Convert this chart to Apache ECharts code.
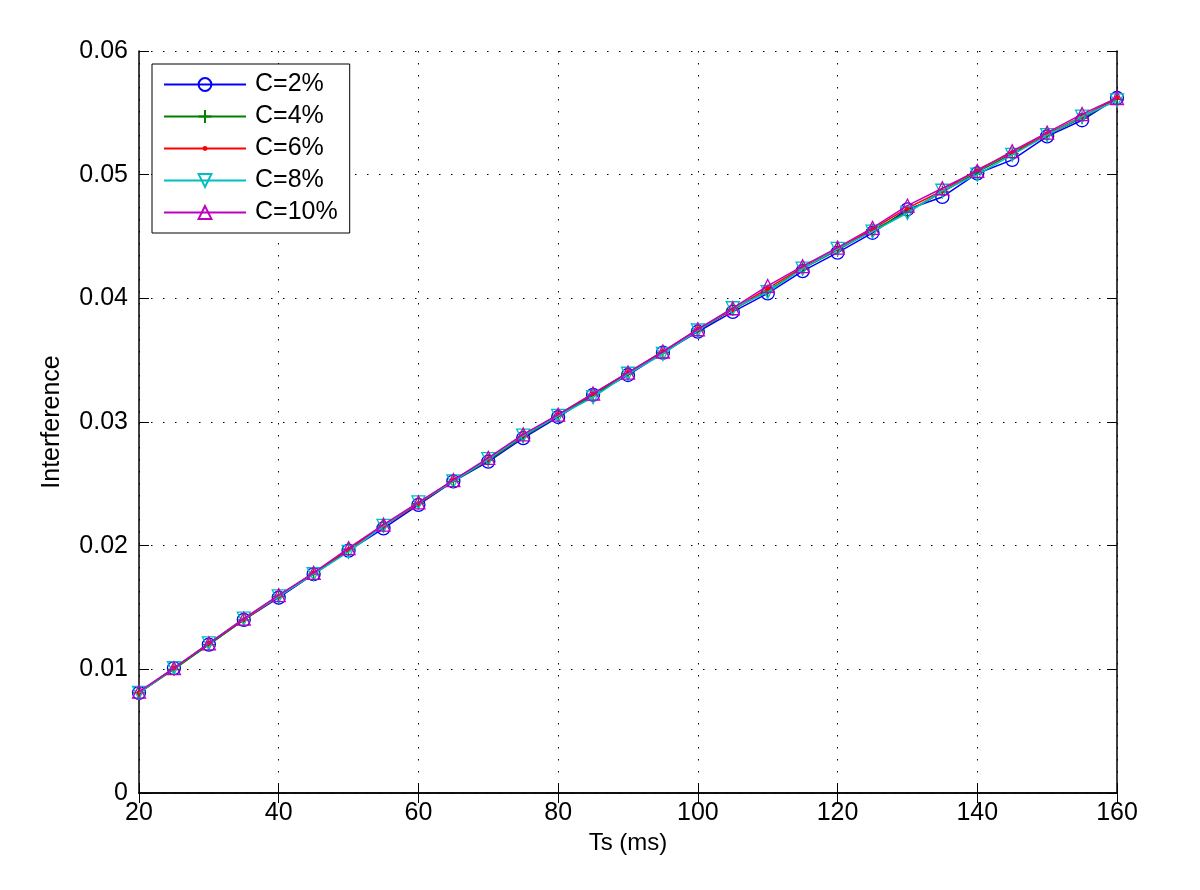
<!DOCTYPE html>
<html lang="en">
<head>
    <meta charset="utf-8">
    <title>Interference vs Ts</title>
    <script src="https://cdn.jsdelivr.net/npm/echarts@6/dist/echarts.min.js"></script>
    <style type="text/css">
        html, body { height: 100%; margin: 0; background: #fff; }
    </style>
</head>
<body>
    <div id="main" style="width:1200px;height:890px;"></div>
    <script type="text/javascript">
        // Ts (ms)
        var ts = [20, 25, 30, 35, 40, 45, 50, 55, 60, 65, 70, 75, 80, 85, 90, 95, 100, 105, 110, 115, 120, 125, 130, 135, 140, 145, 150, 155, 160];

        var c2 = [0.0081, 0.0101, 0.0120, 0.0140, 0.0158, 0.0177, 0.0196, 0.0214, 0.0233, 0.0252, 0.0268, 0.0287, 0.0304, 0.0322, 0.0338, 0.0356, 0.0373, 0.0389, 0.0404, 0.0422, 0.0437, 0.0453, 0.0472, 0.0482, 0.0501, 0.0512, 0.0531, 0.0544, 0.0562];
        var c4 = [0.0081, 0.0100, 0.0120, 0.0140, 0.0159, 0.0177, 0.0197, 0.0216, 0.0234, 0.0252, 0.0269, 0.0288, 0.0305, 0.0322, 0.0339, 0.0356, 0.0374, 0.0391, 0.0406, 0.0424, 0.0439, 0.0455, 0.0470, 0.0486, 0.0502, 0.0517, 0.0532, 0.0546, 0.0561];
        var c6 = [0.0081, 0.0101, 0.0121, 0.0140, 0.0159, 0.0178, 0.0197, 0.0216, 0.0234, 0.0253, 0.0270, 0.0289, 0.0306, 0.0323, 0.0340, 0.0357, 0.0375, 0.0391, 0.0408, 0.0425, 0.0440, 0.0456, 0.0473, 0.0487, 0.0504, 0.0518, 0.0533, 0.0547, 0.0562];
        var c8 = [0.0081, 0.0101, 0.0121, 0.0141, 0.0159, 0.0177, 0.0195, 0.0216, 0.0235, 0.0252, 0.0270, 0.0289, 0.0305, 0.0320, 0.0339, 0.0355, 0.0374, 0.0392, 0.0405, 0.0424, 0.0440, 0.0454, 0.0469, 0.0487, 0.0500, 0.0516, 0.0532, 0.0547, 0.0560];
        var c10 = [0.0082, 0.0101, 0.0121, 0.0141, 0.0160, 0.0178, 0.0198, 0.0217, 0.0235, 0.0253, 0.0271, 0.0290, 0.0306, 0.0323, 0.0340, 0.0357, 0.0375, 0.0392, 0.0410, 0.0426, 0.0441, 0.0457, 0.0475, 0.0489, 0.0503, 0.0519, 0.0534, 0.0549, 0.0562];

        var seriesNames = ['C=2%', 'C=4%', 'C=6%', 'C=8%', 'C=10%'];
        var seriesValues = [c2, c4, c6, c8, c10];
        var seriesColors = ['#0000ff', '#008000', '#ff0000', '#00bfbf', '#bf00bf'];

        var FONT = '"Liberation Sans", Arial, Helvetica, sans-serif';
        var plusPath = 'path://M5,0L5,10M0,5L10,5';
        // small dot inside a 13x13 box (the moves only widen the box)
        var dotPath = 'path://M0,0M13,13M4,6.5A2.5,2.5,0,1,0,9,6.5A2.5,2.5,0,1,0,4,6.5Z';

        function pairs(vals) {
            return ts.map(function (t, i) { return [t, vals[i]]; });
        }

        // marker style per series
        function markerOf(i) {
            var col = seriesColors[i];
            switch (i) {
                case 0: return { symbol: 'circle', symbolSize: 13, symbolRotate: 0, itemStyle: { color: 'transparent', borderColor: col, borderWidth: 1.3 } };
                case 1: return { symbol: plusPath, symbolSize: 13, symbolRotate: 0, itemStyle: { color: 'transparent', borderColor: col, borderWidth: 1.3 } };
                case 2: return { symbol: dotPath, symbolSize: 13, symbolRotate: 0, itemStyle: { color: col, borderColor: col, borderWidth: 0 } };
                case 3: return { symbol: 'triangle', symbolSize: 13, symbolRotate: 180, itemStyle: { color: 'transparent', borderColor: col, borderWidth: 1.3 } };
                default: return { symbol: 'triangle', symbolSize: 13, symbolRotate: 0, itemStyle: { color: 'transparent', borderColor: col, borderWidth: 1.3 } };
            }
        }

        var series = [];
        for (var i = 0; i < seriesNames.length; i++) {
            var m = markerOf(i);
            series.push({
                name: seriesNames[i],
                type: 'line',
                xAxisIndex: 0,
                yAxisIndex: 0,
                data: pairs(seriesValues[i]),
                symbol: m.symbol,
                symbolSize: m.symbolSize,
                symbolRotate: m.symbolRotate,
                showSymbol: true,
                lineStyle: { color: seriesColors[i], width: 1.5 },
                itemStyle: m.itemStyle,
                emphasis: { disabled: true },
                z: 2 + i
            });
        }

        var tickStyle = { show: true, inside: true, length: 10, lineStyle: { color: '#000', width: 1 } };
        var gridDots = { show: true, lineStyle: { color: '#000', width: 1, type: [1.5, 10.5] } };

        var myChart = echarts.init(document.getElementById('main'));
        var option = {
            animation: false,
            backgroundColor: '#fff',
            textStyle: { fontFamily: FONT },
            grid: { left: 139, right: 83, top: 51, bottom: 97 },
            legend: {
                orient: 'vertical',
                left: 152,
                top: 64,
                data: seriesNames,
                itemWidth: 82,
                itemHeight: 16,
                itemGap: 7,
                padding: [8, 12, 8, 11],
                borderColor: '#000',
                borderWidth: 1,
                backgroundColor: '#fff',
                textStyle: { fontFamily: FONT, fontSize: 25, color: '#000', padding: [0, 0, 0, 4] }
            },
            xAxis: [
                {
                    type: 'value', min: 20, max: 160, interval: 20,
                    position: 'bottom',
                    name: 'Ts (ms)', nameLocation: 'middle', nameGap: 33,
                    nameTextStyle: { fontFamily: FONT, fontSize: 24, color: '#000' },
                    axisLine: { show: true, lineStyle: { color: '#000', width: 1.5 } },
                    axisTick: tickStyle,
                    axisLabel: { fontFamily: FONT, fontSize: 25, color: '#000', margin: 8 },
                    splitLine: gridDots
                },
                {
                    type: 'value', min: 20, max: 160, interval: 20,
                    position: 'top',
                    axisLine: { show: true, lineStyle: { color: '#000', width: 1.5 } },
                    axisTick: tickStyle,
                    axisLabel: { show: false },
                    splitLine: { show: false }
                }
            ],
            yAxis: [
                {
                    type: 'value', min: 0, max: 0.06, interval: 0.01,
                    position: 'left',
                    name: 'Interference', nameLocation: 'middle', nameGap: 74,
                    nameTextStyle: { fontFamily: FONT, fontSize: 25, color: '#000' },
                    axisLine: { show: true, lineStyle: { color: '#000', width: 1.5 } },
                    axisTick: tickStyle,
                    axisLabel: { fontFamily: FONT, fontSize: 25, color: '#000', margin: 11 },
                    splitLine: gridDots
                },
                {
                    type: 'value', min: 0, max: 0.06, interval: 0.01,
                    position: 'right',
                    axisLine: { show: true, lineStyle: { color: '#000', width: 1.5 } },
                    axisTick: tickStyle,
                    axisLabel: { show: false },
                    splitLine: { show: false }
                }
            ],
            series: series
        };
        myChart.setOption(option);
    </script>
</body>
</html>
